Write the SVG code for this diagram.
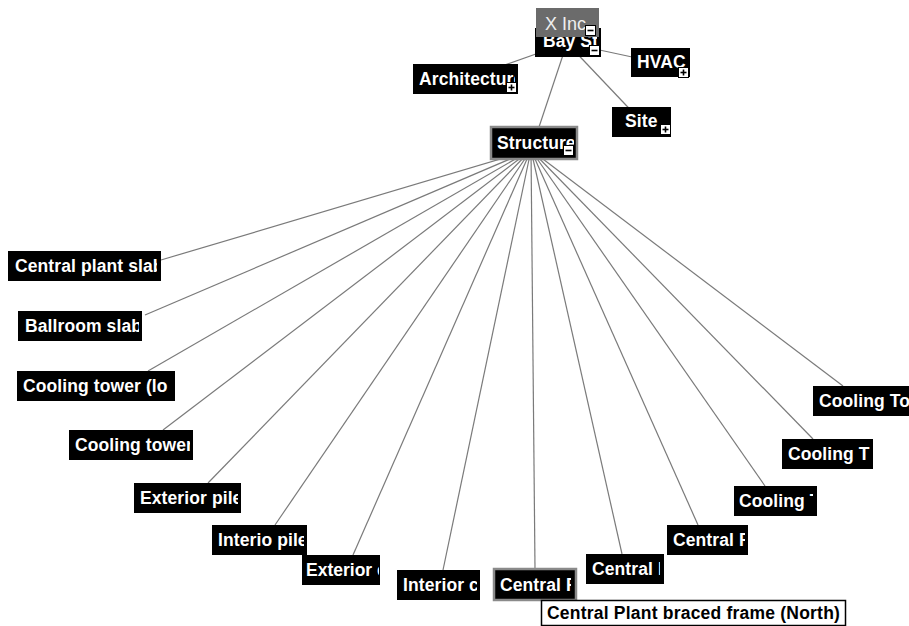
<svg xmlns="http://www.w3.org/2000/svg" width="909" height="626" viewBox="0 0 909 626">
  <style>
    .box { fill: #000; }
    .lbl { font-family: "Liberation Sans", Arial, sans-serif; font-size: 17.5px; font-weight: bold; fill: #fff; letter-spacing: 0.1px; }
    .edge { stroke: #7a7a7a; stroke-width: 1.2; fill: none; }
    .ico { fill: #fff; stroke: #000; stroke-width: 1; }
    .icoMark { stroke: #000; stroke-width: 1.6; }
    .sel { fill: none; stroke: #8a8a8a; stroke-width: 2.5; }
  </style>
  <defs>
    <g id="plus">
      <rect class="ico" x="0.5" y="0.5" width="10" height="10"/>
      <line class="icoMark" x1="2.5" y1="5.5" x2="8.5" y2="5.5"/>
      <line class="icoMark" x1="5.5" y1="2.5" x2="5.5" y2="8.5"/>
    </g>
    <g id="minus">
      <rect class="ico" x="0.5" y="0.5" width="10" height="10"/>
      <line class="icoMark" x1="2.5" y1="5.5" x2="8.5" y2="5.5"/>
    </g>
  </defs>
  <rect width="909" height="626" fill="#fff"/>

  <!-- connectors -->
  <g id="connectors">
    <line class="edge" x1="567" y1="43" x2="465" y2="79"/>
    <line class="edge" x1="567" y1="43" x2="660" y2="63"/>
    <line class="edge" x1="567" y1="43" x2="642" y2="122"/>
    <line class="edge" x1="567" y1="43" x2="534" y2="142"/>
    <line class="edge" x1="531" y1="150" x2="161" y2="260"/>
    <line class="edge" x1="531" y1="150" x2="145" y2="315"/>
    <line class="edge" x1="531" y1="150" x2="148" y2="371"/>
    <line class="edge" x1="531" y1="150" x2="163" y2="430"/>
    <line class="edge" x1="531" y1="150" x2="208" y2="483"/>
    <line class="edge" x1="531" y1="150" x2="275" y2="525"/>
    <line class="edge" x1="531" y1="150" x2="353" y2="555"/>
    <line class="edge" x1="531" y1="150" x2="443" y2="570"/>
    <line class="edge" x1="531" y1="150" x2="535" y2="568"/>
    <line class="edge" x1="531" y1="150" x2="622" y2="554"/>
    <line class="edge" x1="531" y1="150" x2="698" y2="525"/>
    <line class="edge" x1="531" y1="150" x2="765" y2="486"/>
    <line class="edge" x1="531" y1="150" x2="813" y2="439"/>
    <line class="edge" x1="531" y1="150" x2="843" y2="386"/>
  </g>

  <!-- top level -->
  <g id="node-architecture">
    <rect class="box" x="413" y="64" width="105" height="30"/>
    <svg x="413" y="64" width="102" height="30"><text class="lbl" x="6" y="21">Architecture</text></svg>
    <use href="#plus" x="506" y="82"/>
  </g>
  <g id="node-hvac">
    <rect class="box" x="631" y="48" width="59" height="29"/>
    <svg x="631" y="48" width="56" height="29"><text class="lbl" x="6" y="20">HVAC</text></svg>
    <use href="#plus" x="678" y="67"/>
  </g>
  <g id="node-site">
    <rect class="box" x="612" y="107" width="59" height="30"/>
    <svg x="612" y="107" width="56" height="30"><text class="lbl" x="13" y="20">Site</text></svg>
    <use href="#plus" x="660" y="124"/>
  </g>
  <g id="node-bayst">
    <rect class="box" x="535" y="28" width="66" height="29"/>
    <svg x="535" y="37" width="62" height="20"><text class="lbl" x="8" y="10">Bay St</text></svg>
    <use href="#minus" x="589" y="45"/>
  </g>
  <g id="node-xinc">
    <rect x="536" y="8" width="63" height="29" fill="#6b6b6b"/>
    <svg x="536" y="8" width="60" height="29"><text x="9" y="22" font-family="Liberation Sans, Arial, sans-serif" font-size="18" fill="#eee">X Inc</text></svg>
    <use href="#minus" x="585" y="25"/>
  </g>
  <g id="node-structure">
    <rect class="box" x="491" y="127" width="86" height="32"/>
    <rect class="sel" x="491" y="127" width="86" height="32"/>
    <svg x="491" y="127" width="83" height="32"><text class="lbl" x="6" y="22">Structure</text></svg>
    <use href="#minus" x="563" y="145"/>
  </g>

  <!-- structure children -->
  <g id="node-c1">
    <rect class="box" x="8" y="251" width="153" height="30"/>
    <svg x="8" y="251" width="149" height="30"><text class="lbl" x="7" y="21">Central plant slab</text></svg>
  </g>
  <g id="node-c2">
    <rect class="box" x="18" y="311" width="124" height="30"/>
    <svg x="18" y="311" width="121" height="30"><text class="lbl" x="7" y="21">Ballroom slab</text></svg>
  </g>
  <g id="node-c3">
    <rect class="box" x="17" y="371" width="158" height="30"/>
    <svg x="17" y="371" width="155" height="30"><text class="lbl" x="6" y="21">Cooling tower (lo</text></svg>
  </g>
  <g id="node-c4">
    <rect class="box" x="69" y="430" width="124" height="30"/>
    <svg x="69" y="430" width="121" height="30"><text class="lbl" x="6" y="21">Cooling tower</text></svg>
  </g>
  <g id="node-c5">
    <rect class="box" x="134" y="483" width="107" height="30"/>
    <svg x="134" y="483" width="104" height="30"><text class="lbl" x="6" y="21">Exterior pile</text></svg>
  </g>
  <g id="node-c6">
    <rect class="box" x="212" y="525" width="95" height="30"/>
    <svg x="212" y="525" width="92" height="30"><text class="lbl" x="6" y="21">Interio pile</text></svg>
  </g>
  <g id="node-c7">
    <rect class="box" x="302" y="555" width="78" height="30"/>
    <svg x="302" y="555" width="77" height="30"><text class="lbl" x="4" y="21" style="letter-spacing:0">Exterior c</text></svg>
  </g>
  <g id="node-c8">
    <rect class="box" x="397" y="570" width="83" height="30"/>
    <svg x="397" y="570" width="80" height="30"><text class="lbl" x="6" y="21">Interior c</text></svg>
  </g>
  <g id="node-c9">
    <rect class="box" x="494" y="569" width="82" height="31"/>
    <rect class="sel" x="494" y="569" width="82" height="31"/>
    <svg x="494" y="569" width="77" height="31"><text class="lbl" x="6" y="22">Central P</text></svg>
  </g>
  <g id="node-c10">
    <rect class="box" x="586" y="554" width="78" height="30"/>
    <svg x="586" y="554" width="74" height="30"><text class="lbl" x="6" y="21">Central P</text></svg>
  </g>
  <g id="node-c11">
    <rect class="box" x="667" y="525" width="81" height="30"/>
    <svg x="667" y="525" width="78" height="30"><text class="lbl" x="6" y="21">Central P</text></svg>
  </g>
  <g id="node-c12">
    <rect class="box" x="734" y="486" width="83" height="30"/>
    <svg x="734" y="486" width="79" height="30"><text class="lbl" x="5" y="21">Cooling T</text></svg>
  </g>
  <g id="node-c13">
    <rect class="box" x="782" y="439" width="91" height="30"/>
    <svg x="782" y="439" width="88" height="30"><text class="lbl" x="6" y="21">Cooling T</text></svg>
  </g>
  <g id="node-c14">
    <rect class="box" x="813" y="386" width="100" height="30"/>
    <svg x="813" y="386" width="96" height="30"><text class="lbl" x="6" y="21">Cooling To</text></svg>
  </g>

  <!-- hover tip -->
  <g id="tooltip">
    <rect x="541.5" y="600.5" width="304" height="25" fill="#fff" stroke="#000" stroke-width="1.5"/>
    <text class="lbl" x="547" y="619" textLength="293" style="fill:#000">Central Plant braced frame (North)</text>
  </g>
</svg>
